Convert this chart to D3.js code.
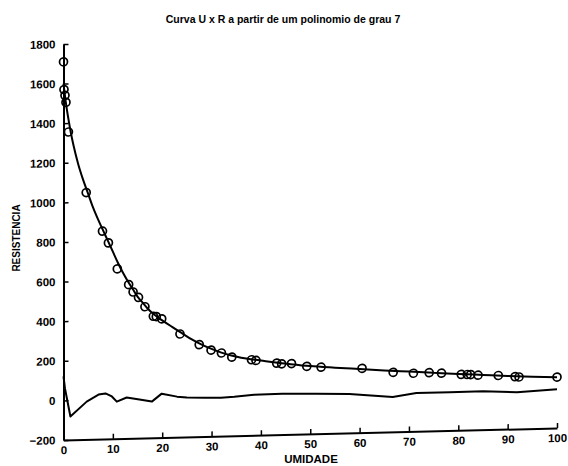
<!DOCTYPE html>
<html>
<head>
<meta charset="utf-8">
<script src="https://cdn.jsdelivr.net/npm/d3@7/dist/d3.min.js"></script>
<style>
  html, body { margin: 0; padding: 0; background: #fff; }
  svg { display: block; }
  text { font-family: "Liberation Sans", Arial, sans-serif; font-weight: bold; fill: #000; }
</style>
</head>
<body>
<svg id="chart" width="568" height="466"></svg>
<script>
// ---- data ----
const title = "Curva U x R a partir de um polinomio de grau 7";
const xLabel = "UMIDADE";
const yLabel = "RESISTENCIA";

const xTicks = [0, 10, 20, 30, 40, 50, 60, 70, 80, 90, 100];
const yTicks = [-200, 0, 200, 400, 600, 800, 1000, 1200, 1400, 1600, 1800];

// measured points (umidade, resistencia)
const umidade = [0.0, 0.1, 0.3, 0.5, 1.0, 4.6, 7.9, 9.1, 10.9, 13.2, 14.1, 15.2, 16.5, 18.2, 18.8, 19.9,
  23.6, 27.5, 29.9, 32.0, 34.1, 38.1, 39.0, 43.2, 44.2, 46.2, 49.3, 52.2, 60.5, 66.8, 70.9, 74.1,
  76.6, 80.6, 81.8, 82.5, 84.0, 88.1, 91.5, 92.3, 100];
const resistencia = [1710, 1570, 1540, 1505, 1355, 1047, 850, 790, 658, 577, 539, 511, 463, 414, 412, 400,
  321, 265, 236, 220, 198, 182, 178, 162, 158, 158, 142, 136, 125, 101, 94, 95,
  91, 82, 81, 80, 76, 72, 64, 62, 57];

// degree-7 polynomial curve (sampled)
const fitX = [0, 0.5, 1, 1.5, 2, 3, 4, 5, 6, 7, 8, 9, 10, 11, 12, 13, 14, 15, 16, 17, 18, 19, 20,
  22, 24, 26, 28, 30, 32, 34, 36, 38, 40, 43, 46, 50, 55, 60, 65, 70, 75, 80, 85, 90, 95, 100];
const fitY = [1600, 1500, 1420, 1350, 1290, 1190, 1110, 1040, 970, 910, 855, 800, 745, 690, 640, 595,
  555, 515, 485, 455, 430, 410, 392, 358, 325, 292, 265, 242, 222, 206, 194, 185, 177, 165, 155,
  143, 132, 122, 112, 103, 94, 85, 77, 69, 62, 56];

// residual curve
const residX = [0, 0.3, 1.4, 4.7, 7.1, 8.5, 9.8, 10.8, 12.8, 15.7, 17.9, 19.9, 23.0, 25.0, 28.5,
  31.9, 34.6, 38.6, 44.3, 51.2, 57.9, 66.7, 71.5, 78.3, 85.0, 91.9, 100];
const residY = [121, 60, -82, -9, 25, 30, 14, -13, 7, -6, -17, 22, 5, -1, -4,
  -6, -3, 5, 7, 2, -3, -23, -6, -6, -5, -15, -5];

// ---- drawing ----
const svg = d3.select("#chart");
const x = d3.scaleLinear().domain([0, 100]).range([63.5, 557]);
const y = d3.scaleLinear().domain([-200, 1800]).range([440, 44]);

// the scanned original is slightly skewed: reproduce that lean
const plot = svg.append("g")
  .attr("transform", `translate(${x(0)},0) skewY(-1.4) translate(${-x(0)},0)`);

// axes
const xAxis = d3.axisBottom(x).tickValues(xTicks).tickFormat(d3.format("d"))
  .tickSizeInner(-5).tickSizeOuter(0).tickPadding(6);
const yAxis = d3.axisLeft(y).tickValues(yTicks).tickFormat(d3.format("d"))
  .tickSizeInner(-5).tickSizeOuter(0).tickPadding(8);

const gx = plot.append("g").attr("transform", `translate(0,${y(-200)})`).call(xAxis);
const gy = plot.append("g").attr("transform", `translate(${x(0)},0)`).call(yAxis);
[gx, gy].forEach(g => {
  g.select(".domain").attr("stroke", "#000").attr("stroke-width", 2);
  g.selectAll(".tick line").attr("stroke", "#000").attr("stroke-width", 1.5);
  g.selectAll(".tick text").attr("font-size", 11.5).attr("font-family", "Liberation Sans, Arial, sans-serif")
    .attr("font-weight", "bold").attr("fill", "#000");
});

// fitted curve
const line = d3.line().x(d => x(d[0])).y(d => y(d[1])).curve(d3.curveMonotoneX);
plot.append("path")
  .datum(fitX.map((v, i) => [v, fitY[i]]))
  .attr("d", line).attr("fill", "none").attr("stroke", "#000").attr("stroke-width", 2);

// residual curve
plot.append("path")
  .datum(residX.map((v, i) => [v, residY[i]]))
  .attr("d", d3.line().x(d => x(d[0])).y(d => y(d[1])))
  .attr("fill", "none").attr("stroke", "#000").attr("stroke-width", 2).attr("stroke-linejoin", "round");

// data circles
plot.append("g").selectAll("circle")
  .data(umidade.map((v, i) => [v, resistencia[i]]))
  .join("circle")
  .attr("cx", d => x(d[0])).attr("cy", d => y(d[1])).attr("r", 4)
  .attr("fill", "none").attr("stroke", "#000").attr("stroke-width", 1.7);

// title and labels
svg.append("text").attr("x", 283).attr("y", 23).attr("text-anchor", "middle")
  .attr("font-size", 10.5).text(title);
svg.append("text").attr("transform", `translate(20,${238}) rotate(-90)`)
  .attr("text-anchor", "middle").attr("font-size", 10).text(yLabel);
svg.append("text").attr("x", 311).attr("y", 463).attr("text-anchor", "middle")
  .attr("font-size", 11.5).text(xLabel);
</script>
</body>
</html>
